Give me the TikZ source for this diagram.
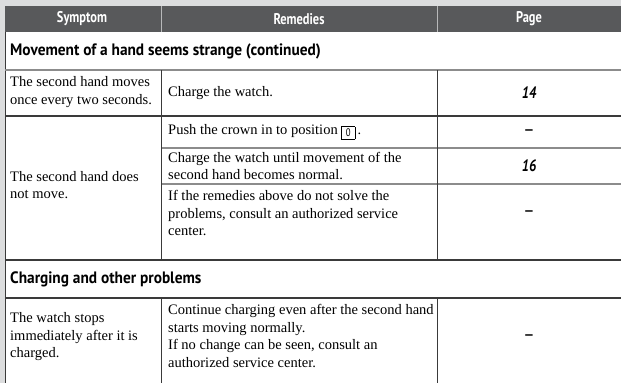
\documentclass[tikz,border=0pt]{standalone}
\usepackage{fontspec}
\setmainfont{Liberation Serif}
\newfontfamily\cond[FakeStretch=0.8]{PT Sans}
\newfontfamily\condw[FakeStretch=0.93]{PT Sans}
\newfontfamily\dashfont{Liberation Sans}
\definecolor{bgGrey}{HTML}{DCDDDE}
\definecolor{hdrGrey}{HTML}{58595B}
\definecolor{lineGrey}{HTML}{8C8C8C}
\definecolor{lineDark}{HTML}{3A3A3A}
\definecolor{sepLight}{HTML}{B8B9BA}
\tikzset{
  body/.style={anchor=west, inner sep=0pt, align=left, font=\fontsize{14.5}{17.5}\selectfont},
  hdr/.style={inner sep=0pt, text=white, font=\cond\bfseries\fontsize{15.5}{17}\selectfont},
  sect/.style={anchor=west, inner sep=0pt, font=\condw\bfseries\fontsize{16.5}{17}\selectfont},
  pg/.style={inner sep=0pt, font=\cond\bfseries\itshape\fontsize{16.5}{17}\selectfont},
  dashcell/.style={inner sep=0pt, font=\dashfont\bfseries\fontsize{15}{17}\selectfont},
  gline/.style={draw=lineGrey, line width=1.6pt},
  dline/.style={draw=lineDark, line width=1.4pt},
  vline/.style={draw=lineDark, line width=0.8pt},
}
\newcommand{\posbox}[1]{{\setlength{\fboxsep}{2.2pt}\setlength{\fboxrule}{0.5pt}\raisebox{-2.5pt}{\fbox{\cond\fontsize{11}{11}\selectfont\,#1\,}}}}
\begin{document}
\begin{tikzpicture}[x=1pt,y=-1pt]
\useasboundingbox (0,0) rectangle (621,383);
\fill[bgGrey] (0,0) rectangle (621,383);
% table body
\fill[white] (5,32) rectangle (621,383);
% header
\fill[hdrGrey] (5,6) rectangle (621,32);
\draw[sepLight, line width=0.8pt] (161,6) -- (161,32);
\draw[sepLight, line width=0.8pt] (437,6) -- (437,32);
\node[hdr] (hsym) at (82,19) {Symptom};
\node[hdr] (hrem) at (299,19) {Remedies};
\node[hdr] (hpg) at (529,19) {Page};
% left border
\draw[lineDark, line width=1pt] (5,32) -- (5,383);
% horizontal lines
\draw[gline] (5,70) -- (621,70);
\draw[dline] (5,116) -- (621,116);
\draw[gline] (161,148) -- (621,148);
\draw[gline] (161,184) -- (621,184);
\draw[dline] (5,260) -- (621,260);
\draw[dline] (5,298) -- (621,298);
% vertical lines
\draw[vline] (161,70) -- (161,260);
\draw[vline] (437,70) -- (437,260);
\draw[vline] (161,298) -- (161,383);
\draw[vline] (437,298) -- (437,383);
% section rows
\node[sect] (s1) at (10,51) {Movement of a hand seems strange (continued)};
\node[sect] (s2) at (10,279) {Charging and other problems};
% row 1
\node[body] (sym1) at (10,92) {The second hand moves\\once every two seconds.};
\node[body] (rem1) at (168,93) {Charge the watch.};
\node[pg] (p1) at (529,93) {14};
% row 2
\node[body] (sym2) at (10,185) {The second hand does\\not move.};
\node[body] (rem2a) at (168,132) {Push the crown in to position \posbox{0}\,.};
\node[dashcell] (p2a) at (529,132) {–};
\node[body] (rem2b) at (168,166) {Charge the watch until movement of the\\second hand becomes normal.};
\node[pg] (p2b) at (529,166) {16};
\node[body] (rem2c) at (168,213) {If the remedies above do not solve the\\problems, consult an authorized service\\center.};
\node[dashcell] (p2c) at (529,213) {–};
% row 3
\node[body] (sym3) at (10,337) {The watch stops\\immediately after it is\\charged.};
\node[body] (rem3) at (168,336) {Continue charging even after the second hand\\starts moving normally.\\If no change can be seen, consult an\\authorized service center.};
\node[dashcell] (p3) at (529,337) {–};
\end{tikzpicture}
\end{document}
